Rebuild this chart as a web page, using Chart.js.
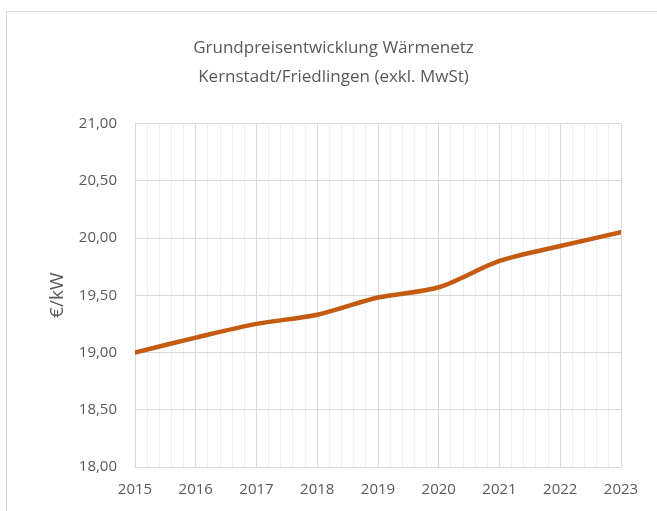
<!DOCTYPE html>
<html>
<head>
<meta charset="utf-8">
<script src="https://cdn.jsdelivr.net/npm/chart.js@4"></script>
<style>
  html, body { margin: 0; padding: 0; background: #fff; }
  #wrap { position: relative; width: 657px; height: 511px; overflow: hidden; }
  #frame { position: absolute; left: 6px; top: 11px; width: 700px; height: 600px;
           border-top: 1px solid #d9d9d9; border-left: 1px solid #d9d9d9; }
  #priceChart { position: absolute; left: 0; top: 0; }
</style>
</head>
<body>
<div id="wrap">
  <div id="frame"></div>
  <canvas id="priceChart" width="657" height="511"></canvas>
</div>
<script>
// Grundpreis in €/kW je Jahr
const years = [2015, 2016, 2017, 2018, 2019, 2020, 2021, 2022, 2023];
const prices = [19.00, 19.13, 19.25, 19.33, 19.48, 19.57, 19.80, 19.93, 20.05];
const titleLines = ['Grundpreisentwicklung Wärmenetz', 'Kernstadt/Friedlingen (exkl. MwSt)'];
const yLabel = '€/kW';

const textColor = '#595959';
const fontFamily = '"Open Sans", sans-serif';

const ctx = document.getElementById('priceChart');

function isWholeYear(v) {
    return Math.abs(v - Math.round(v)) < 1e-6;
}

new Chart(ctx, {
    type: 'line',
    data: {
        datasets: [{
            label: 'Grundpreis',
            data: years.map((y, i) => ({ x: y, y: prices[i] })),
            borderColor: '#C55A11',
            borderWidth: 4.5,
            borderCapStyle: 'round',
            pointRadius: 0,
            tension: 0.3,
            fill: false
        }]
    },
    options: {
        responsive: false,
        animation: false,
        layout: {
            padding: { left: 46, right: 36, top: 33, bottom: 0 }
        },
        plugins: {
            legend: { display: false },
            tooltip: { enabled: false },
            title: {
                display: true,
                text: titleLines,
                color: textColor,
                font: { family: fontFamily, size: 17, weight: 'normal', lineHeight: 1.75 },
                padding: { top: 0, bottom: 31 }
            }
        },
        scales: {
            x: {
                type: 'linear',
                min: 2015,
                max: 2023,
                afterFit: scale => { scale.height = 44; },
                grid: {
                    drawTicks: false,
                    color: c => isWholeYear(c.tick.value) ? '#d9d9d9' : '#efefef',
                    lineWidth: 1
                },
                border: { color: '#d9d9d9' },
                ticks: {
                    stepSize: 0.2,
                    maxTicksLimit: 100,
                    autoSkip: false,
                    maxRotation: 0,
                    padding: 14,
                    color: textColor,
                    font: { family: fontFamily, size: 15 },
                    // empty string keeps the minor grid line, null would hide it
                    callback: v => isWholeYear(v) ? String(Math.round(v)) : ''
                }
            },
            y: {
                min: 18,
                max: 21,
                grid: { drawTicks: false, color: '#d9d9d9' },
                border: { color: '#d9d9d9' },
                afterFit: scale => { scale.width = 89; },
                ticks: {
                    stepSize: 0.5,
                    padding: 18,
                    color: textColor,
                    font: { family: fontFamily, size: 15 },
                    callback: v => v.toFixed(2).replace('.', ',')
                },
                title: {
                    display: true,
                    text: yLabel,
                    color: textColor,
                    padding: 0,
                    font: { family: fontFamily, size: 19 }
                }
            }
        }
    }
});
</script>
</body>
</html>
